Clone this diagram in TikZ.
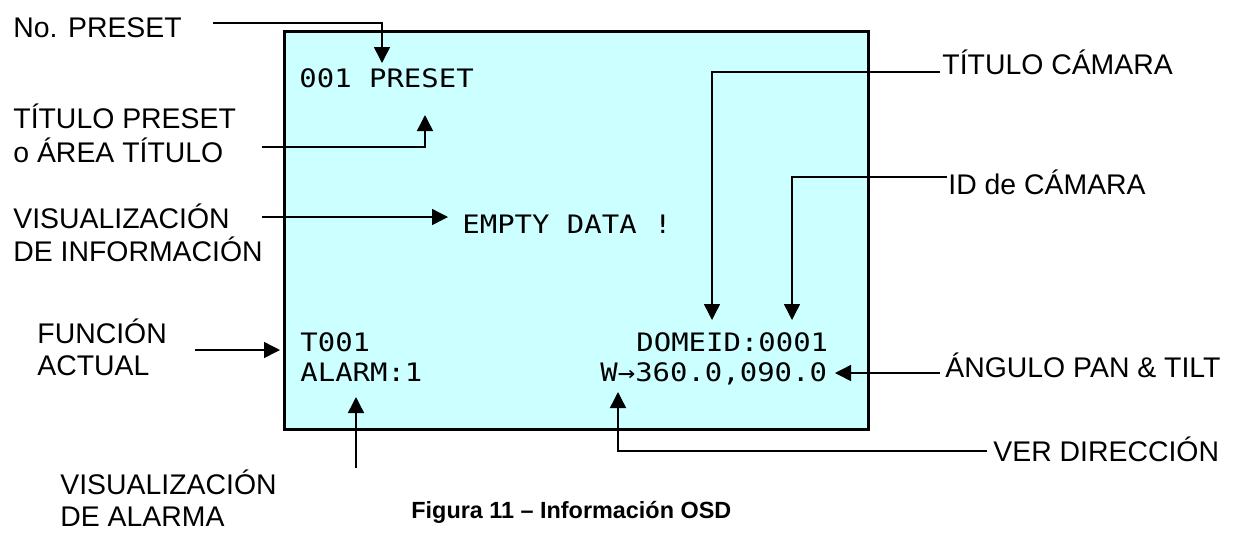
\documentclass[tikz,border=0pt]{standalone}
\usepackage{fontspec}
\setmainfont{Liberation Sans}
\newfontfamily\osd[FakeStretch=1.14]{DejaVu Sans Mono}
\usetikzlibrary{arrows.meta}
\definecolor{screencol}{RGB}{204,255,255}
\begin{document}
\begin{tikzpicture}[x=0.5pt,y=-0.5pt,
  lbl/.style={font=\fontsize{14.2}{17}\selectfont, inner sep=0pt, anchor=base west},
  osdtxt/.style={font=\osd\fontsize{12.7}{15}\selectfont, inner sep=0pt, anchor=base west},
  conn/.style={line width=0.75pt, -{Triangle[width=8pt,length=8pt]}},
  screen/.style={draw=black, line width=1.25pt, fill=screencol, inner sep=0pt,
    minimum width=292pt, minimum height=199pt, anchor=north west}]
\useasboundingbox (0,0) rectangle (1254,532);
\node[screen] (scr) at (283,30) {};

% OSD texts
\node[osdtxt] (o1) at (299,87) {001 PRESET};
\node[osdtxt] (o2) at (462,233) {EMPTY DATA !};
\node[osdtxt] (o3) at (300,351) {T001};
\node[osdtxt] (o4) at (300,381) {ALARM:1};
\node[osdtxt] (o5) at (636,351) {DOMEID:0001};
\node[osdtxt] (o6) at (600,381) {W→360.0,090.0};

% labels
\node[lbl] (nopre) at (13,37) {No. PRESET};
\node[lbl] (titpre1) at (13,128) {TÍTULO PRESET};
\node[lbl] (titpre2) at (13,162) {o ÁREA TÍTULO};
\node[lbl] (visinf1) at (13,228) {VISUALIZACIÓN};
\node[lbl] (visinf2) at (13,261) {DE INFORMACIÓN};
\node[lbl] (func1) at (37,343) {FUNCIÓN};
\node[lbl] (func2) at (37,375) {ACTUAL};
\node[lbl] (visal1) at (60,494) {VISUALIZACIÓN};
\node[lbl] (visal2) at (60,526) {DE ALARMA};
\node[lbl] (titcam) at (942,74) {TÍTULO CÁMARA};
\node[lbl] (idcam) at (948,194) {ID de CÁMARA};
\node[lbl] (angulo) at (945,377) {ÁNGULO PAN \& TILT};
\node[lbl] (verdir) at (993,461) {VER DIRECCIÓN};
\node[lbl, font=\bfseries\fontsize{11.7}{14}\selectfont] (fig) at (411,518) {Figura 11 – Información OSD};

% connector points
\coordinate (a1s) at (213,23); \coordinate (a1c) at (382,23); \coordinate (a1t) at (382,63);
\coordinate (a2s) at (262,147); \coordinate (a2c) at (425,147); \coordinate (a2t) at (425,115);
\coordinate (a3s) at (262,217); \coordinate (a3t) at (448,217);
\coordinate (a4s) at (195,350); \coordinate (a4t) at (280,350);
\coordinate (a5s) at (940,72); \coordinate (a5c) at (712,72); \coordinate (a5t) at (712,320);
\coordinate (a6s) at (947,177); \coordinate (a6c) at (792,177); \coordinate (a6t) at (792,320);
\coordinate (a7s) at (940,373); \coordinate (a7t) at (835,373);
\coordinate (a8s) at (987,451); \coordinate (a8c) at (618,451); \coordinate (a8t) at (618,392);
\coordinate (a9s) at (356,468); \coordinate (a9t) at (356,397);

\draw[conn] (a1s) -- (a1c) -- (a1t);
\draw[conn] (a2s) -- (a2c) -- (a2t);
\draw[conn] (a3s) -- (a3t);
\draw[conn] (a4s) -- (a4t);
\draw[conn] (a5s) -- (a5c) -- (a5t);
\draw[conn] (a6s) -- (a6c) -- (a6t);
\draw[conn] (a7s) -- (a7t);
\draw[conn] (a8s) -- (a8c) -- (a8t);
\draw[conn] (a9s) -- (a9t);
\end{tikzpicture}
\end{document}
